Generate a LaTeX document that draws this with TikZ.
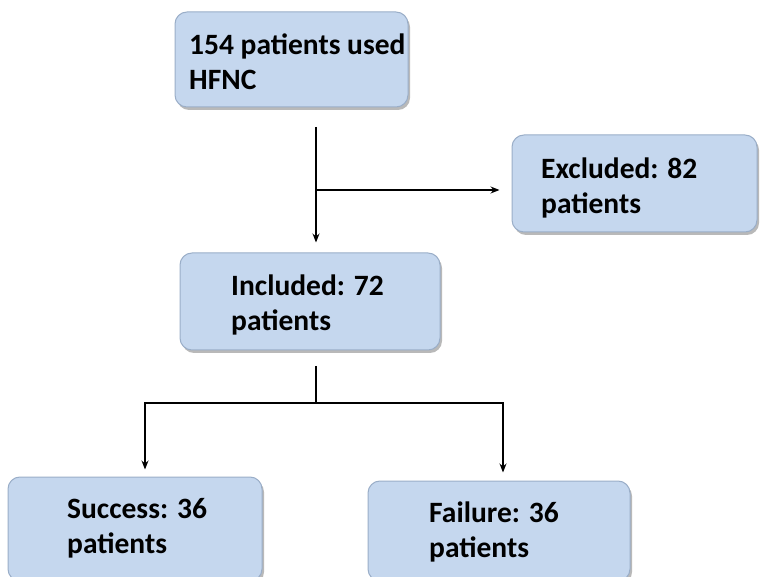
\documentclass[tikz,border=0pt]{standalone}
\usepackage{fontspec}
\setmainfont{Carlito}
\usetikzlibrary{arrows.meta,shadows}
\definecolor{boxfill}{HTML}{C5D7EE}
\definecolor{boxline}{HTML}{9AAEC8}
\begin{document}
\begin{tikzpicture}[x=1pt,y=-1pt,
  box/.style={draw=boxline,line width=1pt,fill=boxfill,rounded corners=12pt,
    drop shadow={shadow xshift=2pt,shadow yshift=-3pt,fill=black!50,opacity=0.55},
    inner sep=0pt},
  txt/.style={anchor=west,align=left,inner sep=0pt,font=\fontsize{29.5}{35}\selectfont\bfseries},
  arr/.style={line width=1.2pt,-{Stealth[length=9pt,width=7pt]}},
  ln/.style={line width=1.2pt}]
\useasboundingbox (0,0) rectangle (766,577);
\fill[white] (0,0) rectangle (766,577);
% boxes
\node[box,minimum width=233pt,minimum height=95pt] (top) at (291.5,59.5) {};
\node[box,minimum width=245pt,minimum height=97pt] (excl) at (634.5,183.5) {};
\node[box,minimum width=260pt,minimum height=97pt] (incl) at (310,301.5) {};
\node[box,minimum width=254pt,minimum height=104pt] (succ) at (135,529) {};
\node[box,minimum width=262pt,minimum height=100pt] (fail) at (499,531) {};
% texts
\node[txt] (ttop) at (189,62) {154 patients used\\HFNC};
\node[txt] (texcl) at (541,188) {Excluded: 82\\patients};
\node[txt] (tincl) at (231,305) {Included: 72\\patients};
\node[txt] (tsucc) at (67,528) {Success: 36\\patients};
\node[txt] (tfail) at (429,532) {Failure: 36\\patients};
% connectors
\coordinate (a1) at (316,127);
\coordinate (j1) at (316,190);
\draw[arr,shorten >=10pt] (a1) -- (a1 |- incl.north);
\draw[arr,shorten >=12pt] (j1) -- (j1 -| excl.west);
\coordinate (b1) at (316,366);
\coordinate (b2) at (316,403);
\draw[ln] (b1) -- (b2);
\draw[arr,shorten >=7pt] (b2) -| ([xshift=10pt]succ.north);
\draw[arr,shorten >=8pt] (b2) -| ([xshift=4pt]fail.north);
\end{tikzpicture}
\end{document}
